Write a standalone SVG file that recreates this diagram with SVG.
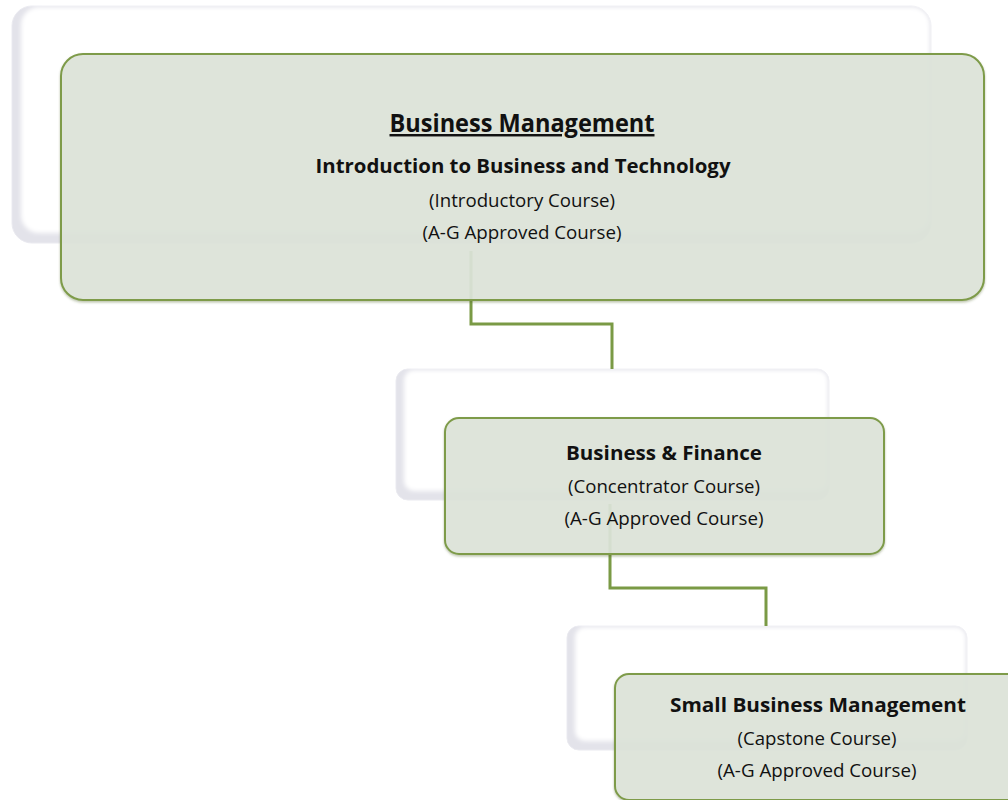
<svg xmlns="http://www.w3.org/2000/svg" width="1008" height="800" viewBox="0 0 1008 800">
<style>
.bg{fill:#e3e3ea;stroke:#eaeaf0;stroke-width:1}
.bgi{fill:#ffffff;filter:url(#soft)}
.card{fill:#dfe6dc;fill-opacity:0.9;stroke:#7e9b4a;stroke-width:2}
.conn{fill:none;stroke:#7a9a45;stroke-width:3}
.t{font-family:"Open Sans","Noto Sans","Liberation Sans",sans-serif;fill:#111;text-anchor:middle}
.h1{font-size:24.5px;font-weight:bold;text-decoration:underline}
.h2{font-size:20px;font-weight:bold}
.s{font-size:18px}
</style>
<defs>
<filter id="soft" x="-5%" y="-5%" width="110%" height="110%"><feGaussianBlur stdDeviation="2"/></filter>
<filter id="sh" x="-5%" y="-5%" width="110%" height="115%"><feDropShadow dx="0" dy="1.5" stdDeviation="1.2" flood-color="#556633" flood-opacity="0.4"/></filter>
</defs>

<g id="back-boxes">
<g id="back1"><rect class="bg" x="12" y="6" width="919" height="237" rx="20"/><rect class="bgi" x="21" y="7" width="909" height="226" rx="18"/></g>
<g id="back2"><rect class="bg" x="396" y="369" width="433" height="131" rx="12"/><rect class="bgi" x="404" y="370" width="424" height="121" rx="10"/></g>
<g id="back3"><rect class="bg" x="567" y="626" width="400" height="124" rx="12"/><rect class="bgi" x="575" y="627" width="391" height="114" rx="10"/></g>
</g>

<g id="connectors">
<path class="conn" d="M471,251 V324 H612 V369"/>
<path class="conn" d="M610,504 V588 H766 V626"/>
</g>

<g id="node1">
<rect class="card" filter="url(#sh)" x="61" y="54" width="923" height="246" rx="22"/>
<text class="t h1" x="522" y="132" textLength="265" lengthAdjust="spacingAndGlyphs">Business Management</text>
<text class="t h2" x="523" y="173" textLength="415" lengthAdjust="spacingAndGlyphs">Introduction to Business and Technology</text>
<text class="t s" x="522" y="207" textLength="186" lengthAdjust="spacingAndGlyphs">(Introductory Course)</text>
<text class="t s" x="522" y="239" textLength="199" lengthAdjust="spacingAndGlyphs">(A-G Approved Course)</text>
</g>

<g id="node2">
<rect class="card" filter="url(#sh)" x="445" y="418" width="439" height="136" rx="14"/>
<text class="t h2" x="664" y="460" textLength="196" lengthAdjust="spacingAndGlyphs">Business &amp; Finance</text>
<text class="t s" x="664" y="493" textLength="192" lengthAdjust="spacingAndGlyphs">(Concentrator Course)</text>
<text class="t s" x="664" y="525" textLength="199" lengthAdjust="spacingAndGlyphs">(A-G Approved Course)</text>
</g>

<g id="node3">
<rect class="card" filter="url(#sh)" x="615" y="674" width="420" height="126" rx="14"/>
<text class="t h2" x="818" y="712" textLength="296" lengthAdjust="spacingAndGlyphs">Small Business Management</text>
<text class="t s" x="817" y="745" textLength="159" lengthAdjust="spacingAndGlyphs">(Capstone Course)</text>
<text class="t s" x="817" y="777" textLength="199" lengthAdjust="spacingAndGlyphs">(A-G Approved Course)</text>
</g>
</svg>
